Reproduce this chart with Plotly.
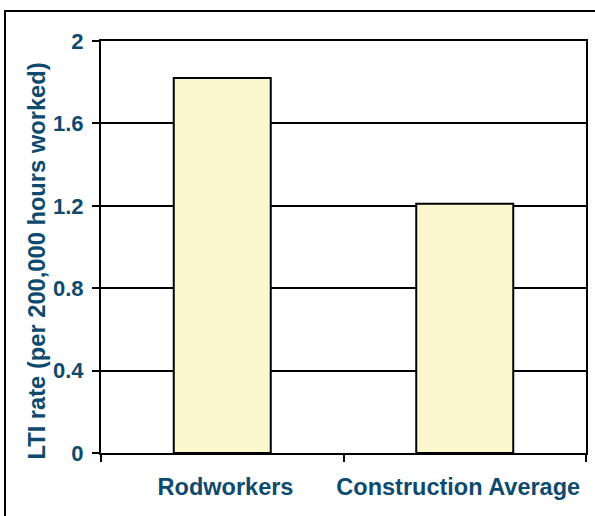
import plotly.graph_objects as go

categories = ["Rodworkers", "Construction Average"]
lti_rate = [1.82, 1.21]
x_tick_labels = ["\u00a0Rodworkers", "Construction Average\u00a0\u00a0"]
y_ticks = [0, 0.4, 0.8, 1.2, 1.6, 2]
y_tick_labels = ["0", "0.4", "0.8", "1.2", "1.6", "2"]
y_title = "LTI rate (per 200,000 hours worked)"

W, H = 595, 516
ML, MR, MT, MB = 101, 9, 41, 63
TEXT = "#0E4A6E"
FONT = "Liberation Sans, Arial, sans-serif"

fig = go.Figure(go.Bar(
    x=categories, y=lti_rate, width=0.40,
    marker=dict(color="#FBF7CE", line=dict(color="black", width=2)),
))

pw, ph = W - ML - MR, H - MT - MB
bx0 = (5 - ML) / pw
bx1 = (W + 6 - ML) / pw
by1 = (H - MB - 11) / ph
by0 = (H - MB - (H + 6)) / ph

fig.update_layout(
    width=W, height=H,
    margin=dict(l=ML, r=MR, t=MT, b=MB, autoexpand=False),
    paper_bgcolor="white", plot_bgcolor="white",
    showlegend=False,
    font=dict(family=FONT, color=TEXT, size=22),
    shapes=[dict(type="rect", xref="paper", yref="paper",
                 x0=bx0, x1=bx1, y0=by0, y1=by1,
                 line=dict(color="black", width=2), layer="above")],
    annotations=[dict(text="<b>" + y_title + "</b>", xref="paper", yref="paper",
                      x=(36.5 - ML) / pw, y=(H - MB - 261) / ph,
                      xanchor="center", yanchor="middle", textangle=-90,
                      showarrow=False,
                      font=dict(family=FONT, size=23.7, color=TEXT))],
)
fig.update_xaxes(
    showline=True, linecolor="black", linewidth=2, mirror=True,
    ticks="outside", tickson="boundaries", ticklen=7, tickwidth=2, tickcolor="black",
    tickvals=categories, ticktext=["<b>" + t + "</b>" for t in x_tick_labels],
    ticklabelstandoff=12, tickangle=0,
    tickfont=dict(family=FONT, size=23.5, color=TEXT),
    showgrid=False,
)
fig.update_yaxes(
    range=[0, 2], tickvals=y_ticks, ticktext=["<b>" + t + "</b>" for t in y_tick_labels],
    showline=True, linecolor="black", linewidth=2, mirror=True,
    ticks="outside", ticklen=7, tickwidth=2, tickcolor="black",
    ticklabelstandoff=4,
    showgrid=True, gridcolor="black", gridwidth=2, zeroline=False,
    tickfont=dict(family=FONT, size=22, color=TEXT),
)

fig.write_html("out.html", config={"displayModeBar": False},
               post_script="document.body.style.margin='0';")
